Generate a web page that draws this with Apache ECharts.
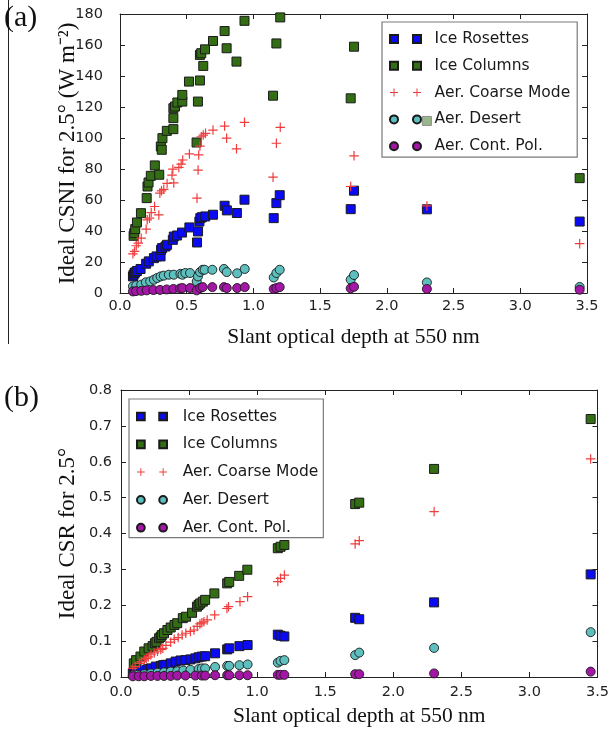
<!DOCTYPE html>
<html><head><meta charset="utf-8">
<script src="https://cdn.jsdelivr.net/npm/echarts@6/dist/echarts.min.js"></script>
<style>html,body{margin:0;padding:0;background:#fff}#c{width:612px;height:730px}</style>
</head><body><div id="c"></div>
<script>
// ---------- data ----------
const seriesNames = ['Ice Rosettes', 'Ice Columns', 'Aer. Coarse Mode', 'Aer. Desert', 'Aer. Cont. Pol.'];
const xTicks = [0, 0.5, 1.0, 1.5, 2.0, 2.5, 3.0, 3.5];
const yTicksA = [0, 20, 40, 60, 80, 100, 120, 140, 160, 180];
const yTicksB = [0, 0.1, 0.2, 0.3, 0.4, 0.5, 0.6, 0.7, 0.8];
const xTitle = 'Slant optical depth at 550 nm';
const yTitleA = 'Ideal CSNI for 2.5° (W m⁻²)';
const yTitleB = 'Ideal CSR for 2.5°';

// panel (a): CSNI [slant optical depth, W m-2]
const aRosettes = [[0.097,10.7],[0.102,11.8],[0.109,12.9],[0.114,13.3],[0.127,14.2],[0.154,15.5],[0.196,18.9],[0.216,20.4],[0.254,22.5],[0.274,23.6],[0.304,23.6],[0.308,27.9],[0.316,29.0],[0.341,30.0],[0.353,31.1],[0.396,34.3],[0.403,36.4],[0.428,37.1],[0.465,39.0],[0.520,42.3],[0.577,32.6],[0.585,39.7],[0.595,46.1],[0.602,48.3],[0.614,48.9],[0.639,49.4],[0.697,50.5],[0.784,56.3],[0.801,53.3],[0.876,51.6],[0.933,60.2],[1.152,48.3],[1.172,58.0],[1.197,63.1],[1.729,54.1],[1.754,66.0],[2.300,54.0],[3.445,46.1]];
const aColumns = [[0.102,36.9],[0.107,38.6],[0.114,41.2],[0.127,45.5],[0.157,51.5],[0.200,61.2],[0.206,68.7],[0.214,71.3],[0.231,75.6],[0.261,82.3],[0.294,76.3],[0.306,94.5],[0.313,92.4],[0.318,99.9],[0.351,104.6],[0.400,105.7],[0.400,112.8],[0.400,119.2],[0.412,120.3],[0.430,122.9],[0.467,123.5],[0.467,127.8],[0.517,136.4],[0.574,97.1],[0.584,123.5],[0.599,137.1],[0.599,153.6],[0.609,154.7],[0.624,146.5],[0.637,157.2],[0.697,162.6],[0.784,169.0],[0.799,157.9],[0.873,149.3],[0.933,175.6],[1.147,127.3],[1.172,161.0],[1.201,177.8],[1.729,125.6],[1.754,158.9],[2.300,111.0],[3.445,74.1]];
const aCoarse = [[0.097,25.3],[0.109,26.8],[0.122,30.5],[0.137,32.2],[0.159,35.4],[0.196,41.2],[0.204,47.2],[0.221,48.3],[0.234,51.9],[0.259,55.8],[0.291,50.4],[0.299,64.4],[0.311,65.9],[0.328,66.9],[0.353,70.7],[0.390,76.0],[0.396,79.9],[0.403,71.0],[0.441,81.0],[0.458,83.2],[0.470,85.8],[0.520,89.7],[0.577,61.2],[0.585,79.3],[0.590,89.1],[0.599,94.8],[0.609,100.8],[0.624,101.9],[0.641,103.0],[0.697,105.1],[0.784,107.7],[0.799,99.9],[0.873,93.0],[0.933,110.1],[1.147,74.7],[1.172,96.6],[1.201,106.9],[1.729,68.7],[1.754,88.5],[2.300,56.2],[3.445,31.8]];
const aDesert = [[0.097,4.3],[0.122,4.9],[0.159,5.4],[0.194,6.9],[0.226,7.5],[0.254,8.6],[0.279,9.7],[0.304,10.7],[0.328,11.2],[0.366,11.8],[0.403,11.8],[0.453,12.4],[0.468,11.8],[0.490,12.9],[0.525,12.9],[0.575,7.5],[0.584,10.7],[0.600,13.5],[0.620,15.0],[0.634,15.0],[0.692,15.0],[0.779,15.5],[0.800,13.5],[0.878,12.7],[0.935,15.5],[1.152,10.0],[1.172,12.9],[1.197,15.0],[1.729,8.6],[1.754,11.6],[2.300,6.8],[3.445,3.9]];
const aContPol = [[0.097,1.0],[0.120,1.2],[0.160,1.4],[0.200,1.7],[0.250,1.9],[0.300,2.0],[0.350,2.3],[0.400,2.6],[0.450,2.9],[0.468,3.2],[0.525,3.2],[0.575,1.7],[0.600,3.2],[0.620,3.8],[0.692,3.8],[0.779,3.8],[0.800,3.2],[0.878,3.2],[0.935,3.8],[1.152,2.6],[1.172,3.2],[1.197,3.8],[1.729,3.0],[1.754,4.0],[2.300,2.6],[3.445,2.1]];

// panel (b): CSR [slant optical depth, ratio]
const bRosettes = [[0.087,0.010],[0.100,0.012],[0.123,0.015],[0.150,0.018],[0.171,0.020],[0.200,0.022],[0.220,0.024],[0.256,0.029],[0.292,0.031],[0.310,0.033],[0.329,0.034],[0.365,0.038],[0.401,0.043],[0.437,0.046],[0.473,0.047],[0.510,0.049],[0.546,0.052],[0.570,0.055],[0.594,0.057],[0.618,0.058],[0.691,0.066],[0.780,0.077],[0.795,0.080],[0.870,0.086],[0.930,0.089],[1.152,0.118],[1.172,0.115],[1.200,0.113],[1.72,0.165],[1.75,0.161],[2.30,0.208],[3.45,0.286]];
const bColumns = [[0.094,0.038],[0.111,0.047],[0.143,0.057],[0.171,0.071],[0.203,0.080],[0.232,0.086],[0.249,0.094],[0.261,0.098],[0.280,0.108],[0.292,0.112],[0.300,0.117],[0.316,0.122],[0.341,0.131],[0.365,0.138],[0.393,0.145],[0.413,0.150],[0.454,0.164],[0.478,0.168],[0.522,0.179],[0.558,0.196],[0.570,0.201],[0.582,0.205],[0.601,0.210],[0.618,0.215],[0.686,0.233],[0.780,0.261],[0.795,0.265],[0.868,0.282],[0.928,0.299],[1.152,0.359],[1.172,0.363],[1.200,0.368],[1.72,0.482],[1.75,0.486],[2.30,0.580],[3.45,0.719]];
const bCoarse = [[0.087,0.024],[0.104,0.029],[0.135,0.038],[0.150,0.043],[0.171,0.048],[0.186,0.052],[0.200,0.056],[0.220,0.062],[0.244,0.067],[0.268,0.072],[0.292,0.077],[0.307,0.080],[0.330,0.088],[0.365,0.097],[0.391,0.105],[0.420,0.110],[0.449,0.117],[0.476,0.122],[0.510,0.127],[0.536,0.131],[0.560,0.141],[0.580,0.148],[0.594,0.151],[0.609,0.154],[0.633,0.159],[0.688,0.173],[0.778,0.191],[0.790,0.196],[0.874,0.210],[0.930,0.224],[1.152,0.266],[1.172,0.275],[1.200,0.284],[1.72,0.371],[1.75,0.380],[2.30,0.461],[3.45,0.608]];
const bDesert = [[0.087,0.005],[0.123,0.006],[0.171,0.008],[0.220,0.010],[0.268,0.012],[0.316,0.013],[0.365,0.015],[0.413,0.016],[0.458,0.018],[0.510,0.020],[0.570,0.022],[0.594,0.024],[0.618,0.024],[0.691,0.028],[0.780,0.031],[0.795,0.031],[0.870,0.033],[0.930,0.035],[1.152,0.040],[1.172,0.045],[1.200,0.047],[1.72,0.061],[1.75,0.068],[2.30,0.081],[3.45,0.125]];
const bContPol = [[0.087,0.002],[0.130,0.002],[0.171,0.002],[0.220,0.003],[0.268,0.003],[0.316,0.003],[0.365,0.003],[0.413,0.004],[0.473,0.004],[0.546,0.004],[0.594,0.004],[0.618,0.004],[0.691,0.005],[0.780,0.005],[0.795,0.005],[0.870,0.005],[0.930,0.005],[1.152,0.006],[1.172,0.006],[1.200,0.006],[1.72,0.008],[1.75,0.008],[2.30,0.010],[3.45,0.015]];

// ---------- styling ----------
const SANS = 'DejaVu Sans';
const SERIF = 'Liberation Serif';
const INK = '#222';
const PLUS = 'path://M3.5,0H4.5V3.5H8V4.5H4.5V8H3.5V4.5H0V3.5H3.5Z';
const styles = [
  { symbol: 'rect', size: 9, color: '#0a0af5', border: '#1a1a1a', bw: 1,
    icon: 'path://M0,0H8V8H0Z M23,0H31V8H23Z' },
  { symbol: 'rect', size: 9, color: '#336e14', border: '#1a1a1a', bw: 1,
    icon: 'path://M0,0H8V8H0Z M23,0H31V8H23Z' },
  { symbol: PLUS, size: 9.5, color: '#f03c3c', border: null, bw: 0,
    icon: 'path://M3.5,0H4.5V3.5H8V4.5H4.5V8H3.5V4.5H0V3.5H3.5Z M26.5,0H27.5V3.5H31V4.5H27.5V8H26.5V4.5H23V3.5H26.5Z' },
  { symbol: 'circle', size: 9, color: '#5ebfbf', border: '#1a1a1a', bw: 0.9,
    icon: 'path://M0,4A4,4,0,1,1,8,4A4,4,0,1,1,0,4Z M23,4A4,4,0,1,1,31,4A4,4,0,1,1,23,4Z' },
  { symbol: 'circle', size: 9, color: '#a316a6', border: '#1a1a1a', bw: 0.9,
    icon: 'path://M0,4A4,4,0,1,1,8,4A4,4,0,1,1,0,4Z M23,4A4,4,0,1,1,31,4A4,4,0,1,1,23,4Z' }
];

function makeAxes(gi, yt, yFmt, yName, yNameGap, yMargin, xMargin, xNameGap) {
  const common = {
    type: 'value', gridIndex: gi,
    axisLine: { show: true, onZero: false, lineStyle: { color: INK, width: 1 } },
    axisTick: { show: true, inside: true, length: 5, lineStyle: { color: INK, width: 1 } },
    splitLine: { show: false }
  };
  const xBase = Object.assign({}, common, {
    min: xTicks[0], max: xTicks[xTicks.length - 1], interval: xTicks[1] - xTicks[0]
  });
  const yBase = Object.assign({}, common, {
    min: yt[0], max: yt[yt.length - 1], interval: yt[1] - yt[0]
  });
  const x1 = Object.assign({}, xBase, {
    position: 'bottom',
    axisLabel: { margin: xMargin, fontFamily: SANS, fontSize: 14.5, color: INK, formatter: v => v.toFixed(1) },
    name: xTitle, nameLocation: 'middle', nameGap: xNameGap, nameMoveOverlap: false,
    nameTextStyle: { fontFamily: SERIF, fontSize: 21.5, color: '#111' }
  });
  const x2 = Object.assign({}, xBase, { position: 'top', axisLabel: { show: false } });
  const y1 = Object.assign({}, yBase, {
    position: 'left',
    axisLabel: { margin: yMargin, fontFamily: SANS, fontSize: 14.5, color: INK, formatter: yFmt },
    name: yName, nameLocation: 'middle', nameGap: yNameGap, nameRotate: 90, nameMoveOverlap: false,
    nameTextStyle: { fontFamily: SERIF, fontSize: 23, color: '#111' }
  });
  const y2 = Object.assign({}, yBase, { position: 'right', axisLabel: { show: false } });
  return { x: [x1, x2], y: [y1, y2] };
}

const axA = makeAxes(0, yTicksA, v => String(Math.round(v)), yTitleA, 41, 17, 6, 33);
const axB = makeAxes(1, yTicksB, v => v.toFixed(1), yTitleB, 42, 9, 8, 28);

const panelA = [aRosettes, aColumns, aCoarse, aDesert, aContPol];
const panelB = [bRosettes, bColumns, bCoarse, bDesert, bContPol];

function makeSeries(panel, xi, yi) {
  return panel.map((d, i) => ({
    type: 'scatter', name: seriesNames[i], xAxisIndex: xi, yAxisIndex: yi,
    data: d, symbol: styles[i].symbol, symbolSize: styles[i].size,
    itemStyle: { color: styles[i].color, borderColor: styles[i].border || styles[i].color, borderWidth: styles[i].bw, opacity: 1 },
    emphasis: { disabled: true }, z: 2 + i * 0.01
  }));
}

function makeLegend(left, top, iw, padding, gap, textPad) {
  return {
    orient: 'vertical', left: left, top: top, padding: padding, itemGap: gap,
    itemWidth: iw, itemHeight: 8, selectedMode: false,
    backgroundColor: 'rgba(255,255,255,0.5)', borderColor: '#7a7a7a', borderWidth: 1.2,
    textStyle: { fontFamily: SANS, fontSize: 15.5, color: '#1a1a1a', lineHeight: 18, padding: [0, 0, 0, textPad] },
    data: seriesNames.map((n, i) => ({ name: n, icon: styles[i].icon }))
  };
}

const chart = echarts.init(document.getElementById('c'), null, { renderer: 'canvas' });
chart.setOption({
  animation: false,
  backgroundColor: '#fff',
  grid: [
    { left: 120, top: 14, width: 467, height: 279 },
    { left: 121, top: 390, width: 483, height: 287 }
  ],
  xAxis: [axA.x[0], axA.x[1], axB.x[0], axB.x[1]],
  yAxis: [axA.y[0], axA.y[1], axB.y[0], axB.y[1]],
  legend: [
    makeLegend(382, 22, 31, [8, 7, 2, 7], 8.8, 8.6),
    makeLegend(129, 399, 30, [8.5, 5, 1, 7], 9.8, 10.7)
  ],
  series: [].concat(makeSeries(panelA, 0, 0), makeSeries(panelB, 2, 2)),
  graphic: [
    { type: 'line', shape: { x1: 8.5, y1: 0, x2: 8.5, y2: 344 }, style: { stroke: '#222', lineWidth: 1 } },
    { type: 'text', left: 4, top: 3, style: { text: '(a)', font: '30px "Liberation Serif"', fill: '#111' } },
    { type: 'text', left: 4, top: 383, style: { text: '(b)', font: '30px "Liberation Serif"', fill: '#111' } }
  ]
});
</script>
</body></html>
